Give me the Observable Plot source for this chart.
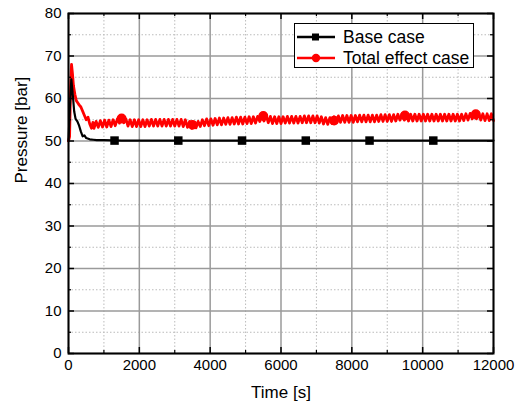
<!DOCTYPE html>
<html>
<head>
<meta charset="utf-8">
<script src="https://cdn.jsdelivr.net/npm/d3@7"></script>
<script src="https://cdn.jsdelivr.net/npm/@observablehq/plot@0.6"></script>
<style>
  html, body { margin: 0; padding: 0; background: #fff; }
  #wrap { position: relative; width: 516px; height: 410px; font-family: "Liberation Sans", Arial, sans-serif; }
  #legend { position: absolute; left: 294px; top: 23px; width: 180px; height: 45px; border: 1px solid #000; background: #fff; box-sizing: border-box; font-size: 17.5px; color: #000; }
  #legend .row { position: absolute; left: 2px; height: 20px; display: flex; align-items: center; }
  #legend svg { display: block; margin-right: 6px; }
</style>
</head>
<body>
<div id="wrap"><div id="chart"></div><div id="legend"></div></div>
<script>
// ---- data ----
const seriesNames = ["Base case", "Total effect case"];
const seriesColors = ["#000000", "#ff0000"];

// Base case (time [s], pressure [bar])
const baseTime = [0, 40, 80, 120, 160, 200, 250, 300, 350, 400, 450, 500, 600, 700, 800, 1000, 1500, 3000, 6000, 9000, 12000];
const basePressure = [50, 58, 64.5, 61, 57, 55.2, 54.6, 53.6, 52.2, 51.1, 51.3, 50.7, 50.4, 50.3, 50.2, 50.2, 50.1, 50.1, 50.1, 50.1, 50.1];
const baseMarkerTime = [1300, 3100, 4900, 6700, 8500, 10300];
const baseMarkerPressure = [50.1, 50.1, 50.1, 50.1, 50.1, 50.1];

// Total effect case: start-up transient
const totalStartTime = [0, 30, 60, 85, 110, 140, 180, 220, 260, 300, 350, 400, 450, 500, 550, 600, 650, 690];
const totalStartPressure = [50, 51, 63, 68, 66, 63, 61, 59.5, 59, 58.5, 58, 57, 56, 55, 55.6, 54, 53.0, 54.4];
// Total effect case: oscillating part, sampled every 60 s from 720 s
const totalOscStart = 720, totalOscStep = 60;
const totalOscPressure = [
  53.0,54.6,53.2,54.8,53.3,54.9,53.3,54.9,53.4,55.0,53.6,55.2,54.2,55.6,54.3,55.2,53.5,55.0,53.4,55.0,
  53.4,55.0,53.4,55.0,53.4,55.0,53.5,55.1,53.5,55.1,53.5,55.1,53.5,55.1,53.5,55.1,53.5,55.1,53.5,55.1,
  53.5,55.1,53.4,55.0,53.2,54.6,53.0,54.4,53.1,54.6,53.4,55.0,53.6,55.2,53.6,55.2,53.7,55.3,53.8,55.4,
  53.8,55.4,53.9,55.5,53.9,55.5,54.0,55.6,54.0,55.6,54.0,55.6,54.1,55.7,54.1,55.7,54.2,55.8,54.6,56.1,
  54.7,56.1,54.3,55.8,54.1,55.7,54.1,55.7,54.1,55.7,54.2,55.8,54.2,55.8,54.2,55.8,54.2,55.8,54.3,55.9,
  54.3,55.9,54.3,55.9,54.3,55.9,54.2,55.7,54.0,55.5,53.9,55.5,54.1,55.7,54.3,55.9,54.4,56.0,54.4,56.0,
  54.4,56.0,54.4,56.0,54.5,56.1,54.5,56.1,54.5,56.1,54.5,56.1,54.5,56.1,54.6,56.2,54.6,56.2,54.6,56.2,
  54.6,56.2,54.7,56.3,54.9,56.4,54.9,56.3,54.7,56.3,54.7,56.3,54.7,56.3,54.7,56.3,54.7,56.3,54.7,56.3,
  54.7,56.3,54.7,56.3,54.7,56.3,54.7,56.3,54.7,56.3,54.7,56.3,54.7,56.3,54.8,56.4,54.9,56.5,55.2,56.7,
  55.2,56.6,54.9,56.4,54.8,56.4,54.8,56.4,54.8
];
const totalMarkerTime = [1500, 3500, 5500, 7500, 9500, 11500];
const totalMarkerPressure = [55.3, 53.8, 55.9, 54.8, 56.0, 56.3];

// axes
const xMajor = [0, 2000, 4000, 6000, 8000, 10000, 12000];
const xMinor = [1000, 3000, 5000, 7000, 9000, 11000];
const yMajor = [0, 10, 20, 30, 40, 50, 60, 70, 80];
const yMinor = [5, 15, 25, 35, 45, 55, 65, 75];
const xTitle = "Time [s]";
const yTitle = "Pressure [bar]";

// ---- build tables ----
const base = baseTime.map((t, i) => ({t, p: basePressure[i]}));
const baseMarks = baseMarkerTime.map((t, i) => ({t, p: baseMarkerPressure[i]}));
const total = totalStartTime.map((t, i) => ({t, p: totalStartPressure[i]}))
  .concat(totalOscPressure.map((p, i) => ({t: totalOscStart + i * totalOscStep, p})));
const totalMarks = totalMarkerTime.map((t, i) => ({t, p: totalMarkerPressure[i]}));

const W = 516, H = 410, mL = 68, mR = 23, mT = 13, mB = 57;
const innerW = W - mL - mR, innerH = H - mT - mB;
const tickMaj = 6, tickMin = 3;

const chart = Plot.plot({
  width: W, height: H,
  marginLeft: mL, marginRight: mR, marginTop: mT, marginBottom: mB,
  style: {fontFamily: "'Liberation Sans', Arial, sans-serif", fontSize: "15px", color: "#000", background: "#fff"},
  x: {domain: [0, 12000]},
  y: {domain: [0, 80]},
  marks: [
    // minor grid
    Plot.ruleX(xMinor, {x: d => d, stroke: "#bbb", strokeWidth: 1, strokeDasharray: "1.5,2"}),
    Plot.ruleY(yMinor, {y: d => d, stroke: "#bbb", strokeWidth: 1, strokeDasharray: "1.5,2"}),
    // major grid
    Plot.ruleX(xMajor, {x: d => d, stroke: "#9a9a9a", strokeWidth: 1.5}),
    Plot.ruleY(yMajor, {y: d => d, stroke: "#9a9a9a", strokeWidth: 1.5}),
    // series
    Plot.line(total, {x: "t", y: "p", stroke: seriesColors[1], strokeWidth: 2.8, curve: "linear"}),
    Plot.line(base, {x: "t", y: "p", stroke: seriesColors[0], strokeWidth: 2.2}),
    Plot.dot(totalMarks, {x: "t", y: "p", r: 4.2, fill: seriesColors[1], stroke: seriesColors[1], symbol: "circle"}),
    Plot.dot(baseMarks, {x: "t", y: "p", r: 4.8, fill: seriesColors[0], symbol: "square"}),
    // inward ticks (bottom/top)
    Plot.ruleX(xMajor, {x: d => d, insetTop: innerH - tickMaj, stroke: "#000", strokeWidth: 1.5}),
    Plot.ruleX(xMajor, {x: d => d, insetBottom: innerH - tickMaj, stroke: "#000", strokeWidth: 1.5}),
    Plot.ruleX(xMinor, {x: d => d, insetTop: innerH - tickMin, stroke: "#000", strokeWidth: 1.2}),
    Plot.ruleX(xMinor, {x: d => d, insetBottom: innerH - tickMin, stroke: "#000", strokeWidth: 1.2}),
    // inward ticks (left/right)
    Plot.ruleY(yMajor, {y: d => d, insetRight: innerW - tickMaj, stroke: "#000", strokeWidth: 1.5}),
    Plot.ruleY(yMajor, {y: d => d, insetLeft: innerW - tickMaj, stroke: "#000", strokeWidth: 1.5}),
    Plot.ruleY(yMinor, {y: d => d, insetRight: innerW - tickMin, stroke: "#000", strokeWidth: 1.2}),
    Plot.ruleY(yMinor, {y: d => d, insetLeft: innerW - tickMin, stroke: "#000", strokeWidth: 1.2}),
    Plot.frame({stroke: "#000", strokeWidth: 2}),
    // tick labels
    Plot.axisX(xMajor, {tickSize: 0, tickPadding: 6, fontSize: 15, tickFormat: d3.format("d"), label: null}),
    Plot.axisY(yMajor, {tickSize: 0, tickPadding: 7, fontSize: 15, tickFormat: d3.format("d"), label: null}),
    // axis titles
    Plot.text([xTitle], {text: d => d, frameAnchor: "bottom", dy: 44, fontSize: 17, fill: "#000"}),
    Plot.text([yTitle], {text: d => d, frameAnchor: "left", dx: -47, rotate: -90, fontSize: 17, fill: "#000"})
  ]
});
document.getElementById("chart").appendChild(chart);

// legend (HTML overlay, drawn from the series arrays)
const legend = document.getElementById("legend");
seriesNames.forEach((name, i) => {
  const row = document.createElement("div");
  row.className = "row";
  row.style.top = (3 + i * 21) + "px";
  const sw = d3.create("svg").attr("width", 40).attr("height", 14);
  sw.append("line").attr("x1", 0).attr("x2", 38).attr("y1", 7).attr("y2", 7)
    .attr("stroke", seriesColors[i]).attr("stroke-width", 2.5);
  if (i === 0) sw.append("rect").attr("x", 15).attr("y", 3.5).attr("width", 7).attr("height", 7).attr("fill", seriesColors[i]);
  else sw.append("circle").attr("cx", 19).attr("cy", 7).attr("r", 4.2).attr("fill", seriesColors[i]);
  row.appendChild(sw.node());
  const label = document.createElement("span");
  label.textContent = name;
  row.appendChild(label);
  legend.appendChild(row);
});
</script>
</body>
</html>
